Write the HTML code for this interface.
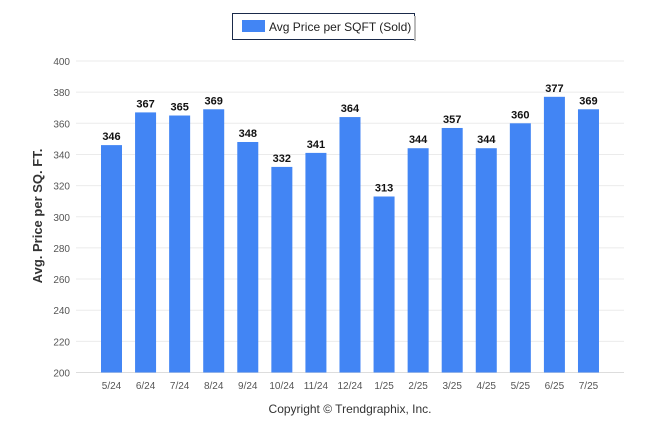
<!DOCTYPE html>
<html><head><meta charset="utf-8"><style>
body{margin:0;background:#fff;}
svg{display:block;font-family:"Liberation Sans",sans-serif;}
</style></head><body>
<svg id="chart" width="646" height="434">
<g>
<rect x="232.5" y="13.5" width="182" height="26" fill="#fff" stroke="#1a2a4a" stroke-width="1"/>
<rect x="414" y="16" width="2" height="25" fill="#bbb"/>
<rect x="242" y="20" width="23" height="12" fill="#4285f4"/>
<text x="269" y="31" font-size="12" fill="#222">Avg Price per SQFT (Sold)</text>
</g>
<g id="grid"></g>
<g id="bars"></g>
<text transform="translate(42,216) rotate(-90)" text-anchor="middle" font-size="13" font-weight="bold" fill="#333">Avg. Price per SQ. FT.</text>
<text x="350" y="413" text-anchor="middle" font-size="12" fill="#333">Copyright © Trendgraphix, Inc.</text>
</svg>
<script>
const categories=["5/24","6/24","7/24","8/24","9/24","10/24","11/24","12/24","1/25","2/25","3/25","4/25","5/25","6/25","7/25"];
const values=[346,367,365,369,348,332,341,364,313,344,357,344,360,377,369];
const yTicks=[200,220,240,260,280,300,320,340,360,380,400];
const NS="http://www.w3.org/2000/svg";
function y(v){return 372.5-(v-200)*(311.5/200);}
function x(i){return 111.5+i*34.07;}
const grid=document.getElementById('grid'),bars=document.getElementById('bars');
function mk(tag,attrs,parent,text){const e=document.createElementNS(NS,tag);for(const k in attrs)e.setAttribute(k,attrs[k]);if(text!==undefined)e.textContent=text;parent.appendChild(e);return e;}
yTicks.forEach(t=>{
 const l=mk('line',{x1:76,x2:624,y1:y(t),y2:y(t),stroke:t===200?'#ddd':'#ebebeb','stroke-width':1},grid);
 
 
 const tx=mk('text',{x:70,y:y(t)+4,'text-anchor':'end','font-size':10,fill:'#555'},grid,t);
 
 
});
categories.forEach((c,i)=>{
 const v=values[i];
 const r=mk('rect',{x:x(i)-10.5,y:y(v),width:21,height:y(200)-y(v),fill:'#4285f4'},bars);
 
 
 const lb=mk('text',{x:x(i),y:y(v)-5,'text-anchor':'middle','font-size':11,'font-weight':'bold',fill:'#111'},bars,v);
 
 
 const tk=mk('text',{x:x(i),y:389,'text-anchor':'middle','font-size':10,fill:'#555'},bars,c);
 
 
});
</script>
</body></html>
